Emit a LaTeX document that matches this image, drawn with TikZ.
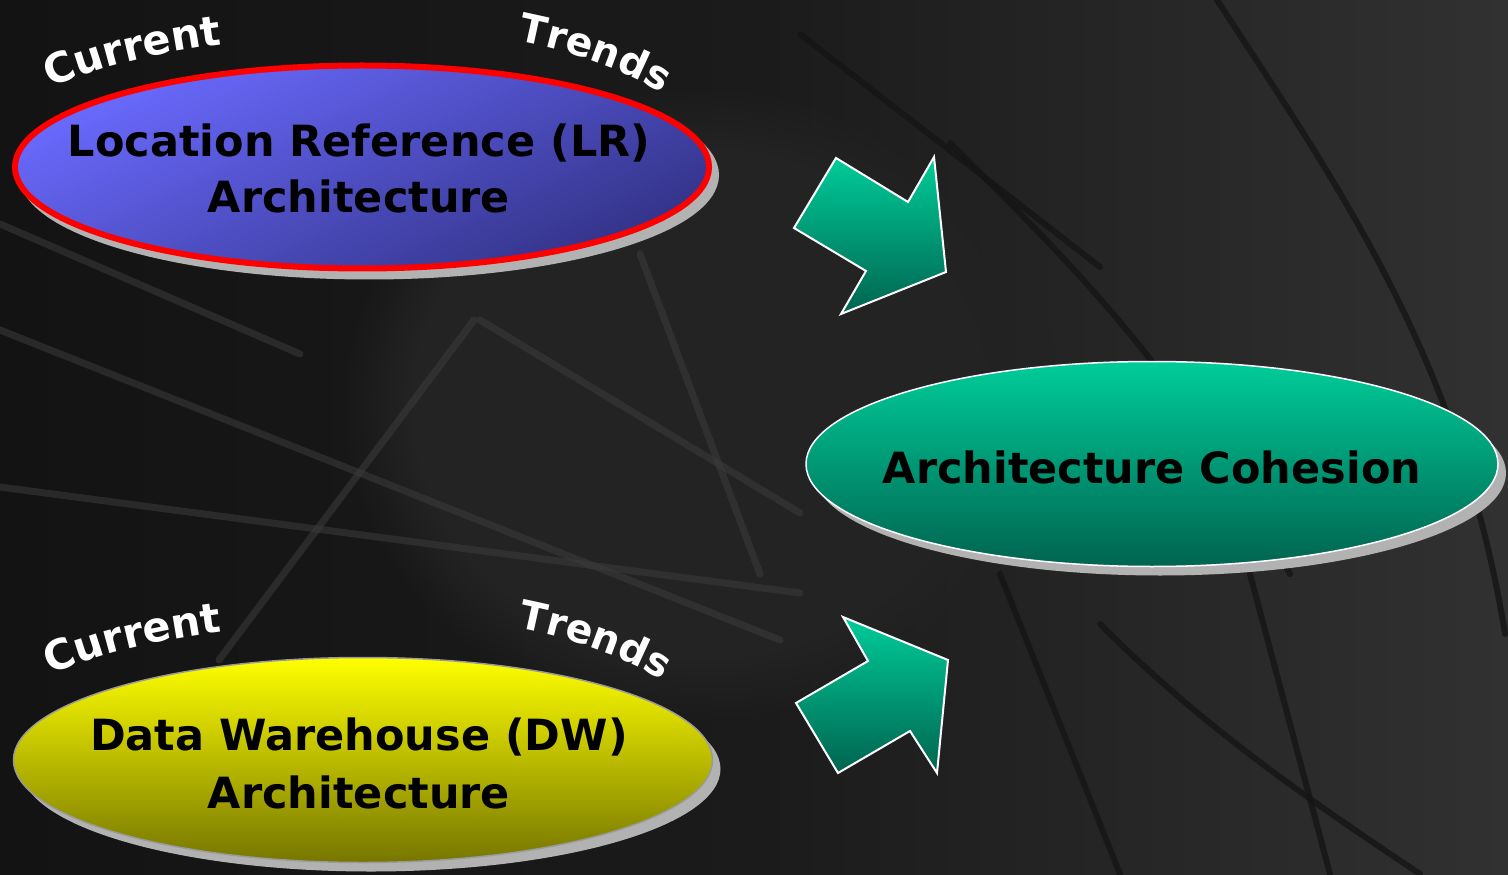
\documentclass[tikz,border=0pt]{standalone}
\usepackage{fontspec}
\setmainfont{DejaVu Sans}
\usetikzlibrary{shapes.geometric,shadows,decorations.text,fadings}
\definecolor{bgL}{HTML}{131313}
\definecolor{bgM}{HTML}{1B1B1B}
\definecolor{bgR}{HTML}{313131}
\definecolor{bgHub}{HTML}{232323}
\definecolor{texlight}{HTML}{3C3C3C}
\definecolor{texdark}{HTML}{151515}
\definecolor{shadowgray}{HTML}{B2B2B2}
\definecolor{lrTop}{HTML}{6A6AFF}
\definecolor{lrBot}{HTML}{333388}
\definecolor{acTop}{HTML}{00CC99}
\definecolor{acBot}{HTML}{006450}
\definecolor{dwTop}{HTML}{FFFF00}
\definecolor{dwBot}{HTML}{767600}
\definecolor{dwEdge}{HTML}{9A9A9A}
\newcommand\labfont{\fontsize{20.7pt}{24pt}\selectfont\bfseries\color{white}}
\newcommand\labfontb{\fontsize{19.8pt}{24pt}\selectfont\bfseries\color{white}}
\newcommand\mainfnt{\fontsize{21.5pt}{28pt}\selectfont\bfseries}
\tikzset{
  bubble/.style={ellipse, inner sep=0pt},
  bubbletext/.style={anchor=base, inner sep=0pt, font=\mainfnt, text=black},
  bigarrow/.style={top color=acTop, bottom color=acBot, draw=white, line width=1pt, line join=miter},
  lightline/.style={draw=texlight, line width=3.5pt, line cap=round, opacity=0.55},
  darkline/.style={draw=texdark, line width=3pt, line cap=round, opacity=0.8},
  arclabel/.style={decorate, decoration={text along path, text align=left}}
}
\begin{document}
\begin{tikzpicture}[x=0.5pt,y=0.5pt]
\useasboundingbox (0,0) rectangle (1508,874);
% background
\shade[left color=bgL, right color=bgM] (0,0) rectangle (760,874);
\shade[left color=bgM, right color=bgR] (760,0) rectangle (1508,874);
\fill[bgHub, path fading=circle with fuzzy edge 20 percent] (700,470) ellipse[x radius=360, y radius=320];
% texture of the wheel
\draw[lightline] (0,544) -- (780,234);
\draw[lightline] (474,554) -- (219,214);
\draw[lightline] (0,387) -- (800,281);
\draw[lightline] (480,554) -- (800,361);
\draw[lightline] (0,650) -- (300,520);
\draw[lightline] (640,620) -- (760,300);
\draw[darkline] (1217,874) .. controls (1330,700) and (1460,520) .. (1505,240);
\draw[darkline] (950,731) .. controls (1060,620) and (1170,520) .. (1290,300);
\draw[darkline] (800,840) -- (1100,607);
\draw[darkline] (1100,250) .. controls (1200,150) and (1300,80) .. (1420,0);
\draw[darkline] (1000,300) -- (1120,0);
\draw[darkline] (1250,300) -- (1330,0);

% arrows
\shadedraw[bigarrow] (836,716) -- (908,672) -- (934,717) -- (946,602) -- (841,560) -- (866,603) -- (794,646) -- cycle;
\shadedraw[bigarrow] (843,257) -- (948,214) -- (937,101) -- (910,143) -- (838,101) -- (796,171) -- (868,213) -- cycle;

% ellipses
\node[bubble, minimum width=347pt, minimum height=101.5pt, top color=lrTop, bottom color=lrBot, shading angle=25, draw=red, line width=3pt,
  general shadow={draw=shadowgray, fill=shadowgray, line width=3pt, shadow xshift=3.5pt, shadow yshift=-4pt}] (lr) at (362,707) {};
\node[bubble, minimum width=346pt, minimum height=102.5pt, top color=acTop, bottom color=acBot, draw=white, line width=0.75pt,
  general shadow={fill=shadowgray, shadow xshift=4pt, shadow yshift=-4.5pt}] (ac) at (1152,410) {};
\node[bubble, minimum width=349.5pt, minimum height=102.5pt, top color=dwTop, bottom color=dwBot, draw=dwEdge, line width=0.75pt,
  general shadow={fill=shadowgray, shadow xshift=4pt, shadow yshift=-4.5pt}] (dw) at (363,114) {};

% texts
\node[bubbletext] (lr1) at (359,717) {Location Reference (LR)};
\node[bubbletext] (lr2) at (359,661) {Architecture};
\node[bubbletext] (ac1) at (1152,391) {Architecture Cohesion};
\node[bubbletext] (dw1) at (359,124) {Data Warehouse (DW)};
\node[bubbletext] (dw2) at (359,66) {Architecture};

% curved labels
\path[arclabel, decoration={text={|\labfont|Current}}] ([shift={(360,707)}]143:194pt and 65.5pt) arc[start angle=143, end angle=88, x radius=194pt, y radius=65.5pt];
\path[arclabel, decoration={text={|\labfontb|Trends}}] ([shift={(360,707)}]63.5:177pt and 70.5pt) arc[start angle=63.5, end angle=8, x radius=177pt, y radius=70.5pt];
\path[arclabel, decoration={text={|\labfont|Current}}] ([shift={(360,120)}]143:194pt and 65.5pt) arc[start angle=143, end angle=88, x radius=194pt, y radius=65.5pt];
\path[arclabel, decoration={text={|\labfontb|Trends}}] ([shift={(360,120)}]63.5:177pt and 70.5pt) arc[start angle=63.5, end angle=8, x radius=177pt, y radius=70.5pt];
\end{tikzpicture}
\end{document}
